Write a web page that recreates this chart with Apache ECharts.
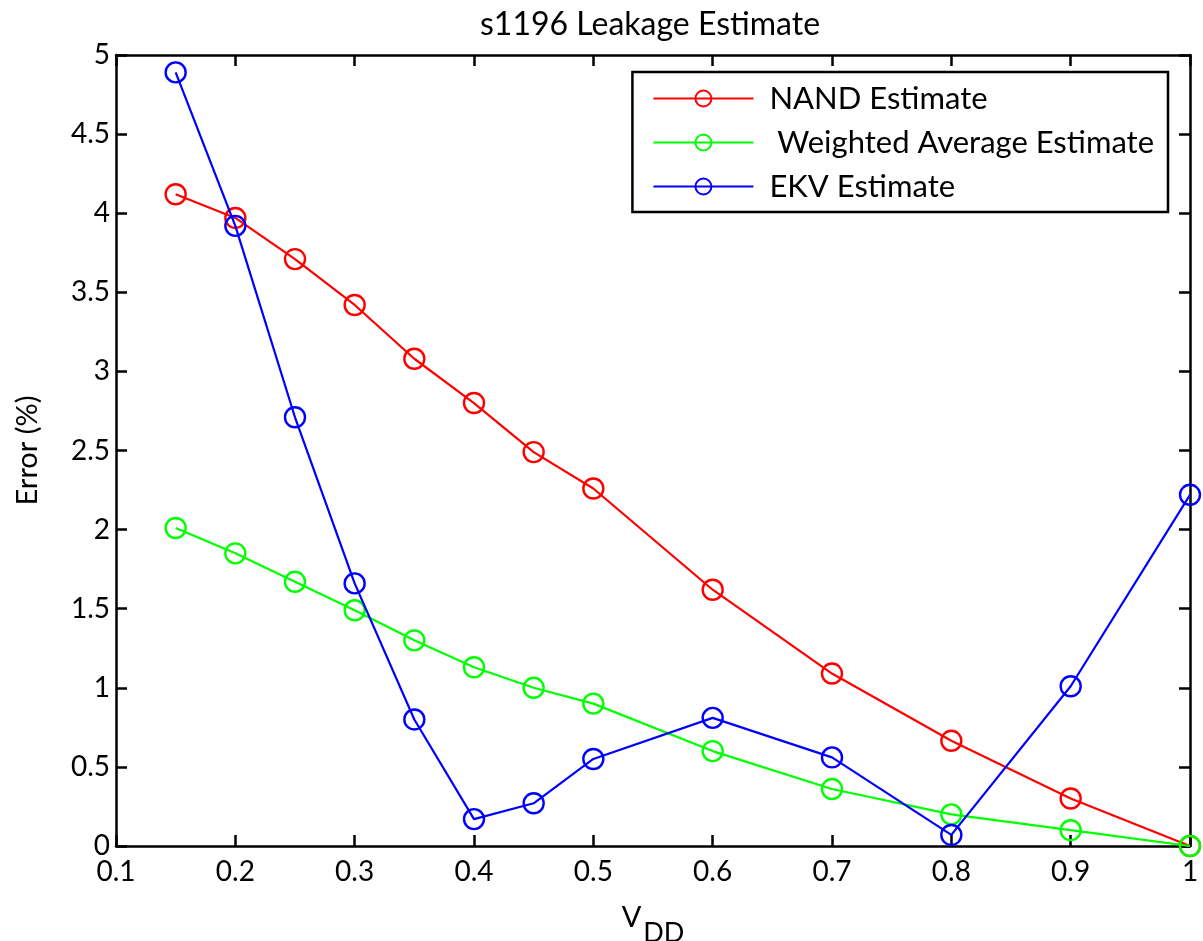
<!DOCTYPE html>
<html>
<head>
<meta charset="utf-8">
<script src="https://cdn.jsdelivr.net/npm/echarts@6/dist/echarts.min.js"></script>
<style>
  html, body { margin: 0; padding: 0; background: #fff; overflow: hidden; }
  #chart { width: 1203px; height: 941px; }
</style>
</head>
<body>
<div id="chart"></div>
<script>
// Supply voltage points (V)
const vdd = [0.15, 0.2, 0.25, 0.3, 0.35, 0.4, 0.45, 0.5, 0.6, 0.7, 0.8, 0.9, 1.0];
// Leakage estimate error (%) per method
const nandError = [4.12, 3.97, 3.71, 3.42, 3.08, 2.80, 2.49, 2.26, 1.62, 1.09, 0.665, 0.30, 0.0];
const weightedError = [2.01, 1.85, 1.67, 1.49, 1.30, 1.13, 1.00, 0.90, 0.60, 0.36, 0.20, 0.10, 0.0];
const ekvError = [4.89, 3.92, 2.71, 1.66, 0.80, 0.17, 0.27, 0.55, 0.81, 0.56, 0.07, 1.01, 2.22];
const seriesNames = ['NAND Estimate', ' Weighted Average Estimate', 'EKV Estimate'];
const seriesColors = ['#ff0000', '#00ff00', '#0000ff'];
const seriesData = [nandError, weightedError, ekvError];

const FONT = 'Lato, "Open Sans", sans-serif';

const chart = echarts.init(document.getElementById('chart'), null, { renderer: 'canvas' });

const axisLine = { show: true, onZero: false, lineStyle: { color: '#000', width: 2.5 } };
const axisTick = { show: true, inside: true, length: 11, lineStyle: { color: '#000', width: 2.5 } };

chart.setOption({
  backgroundColor: '#fff',
  animation: false,
  title: {
    text: 's1196 Leakage Estimate',
    left: 645,
    textAlign: 'center',
    top: 4,
    textStyle: { fontFamily: FONT, fontSize: 32, fontWeight: 'normal', color: '#000' }
  },
  legend: {
    orient: 'vertical',
    right: 35,
    top: 72,
    padding: [11, 14, 10, 20],
    itemWidth: 100,
    itemHeight: 20,
    itemGap: 13,
    borderColor: '#000',
    borderWidth: 2.5,
    backgroundColor: '#fff',
    textStyle: { fontFamily: FONT, fontSize: 31, color: '#000', padding: [0, 0, 0, 11] },
    data: seriesNames
  },
  grid: { left: 116, right: 13, top: 55, bottom: 95, containLabel: false, outerBoundsMode: 'none' },
  xAxis: [
    {
      type: 'value', min: 0.1, max: 1, interval: 0.1, position: 'bottom',
      axisLine, axisTick,
      splitLine: { show: false },
      axisLabel: {
        fontFamily: FONT, fontSize: 28, color: '#000', margin: 12,
        formatter: v => String(Math.round(v * 10) / 10)
      },
      name: '{v|V}{s|DD}',
      nameLocation: 'middle',
      nameGap: 57,
      nameTextStyle: {
        rich: {
          v: { fontFamily: FONT, fontSize: 29, color: '#000', padding: [0, 2, 16, 0] },
          s: { fontFamily: FONT, fontSize: 27, color: '#000', padding: [16, 0, 0, 0] }
        }
      }
    },
    {
      type: 'value', min: 0.1, max: 1, interval: 0.1, position: 'top',
      axisLine, axisTick, axisLabel: { show: false }, splitLine: { show: false }
    }
  ],
  yAxis: [
    {
      type: 'value', min: 0, max: 5, interval: 0.5, position: 'left',
      axisLine, axisTick,
      splitLine: { show: false },
      axisLabel: { fontFamily: FONT, fontSize: 28, color: '#000', margin: 6 },
      name: 'Error (%)',
      nameLocation: 'middle',
      nameRotate: 90,
      nameGap: 74,
      nameTextStyle: { fontFamily: FONT, fontSize: 29, color: '#000' }
    },
    {
      type: 'value', min: 0, max: 5, interval: 0.5, position: 'right',
      axisLine, axisTick, axisLabel: { show: false }, splitLine: { show: false }
    }
  ],
  series: seriesNames.map((name, i) => ({
    name,
    type: 'line',
    xAxisIndex: 0,
    yAxisIndex: 0,
    data: vdd.map((x, j) => [x, seriesData[i][j]]),
    symbol: 'circle',
    symbolSize: 20,
    showAllSymbol: true,
    color: seriesColors[i],
    lineStyle: { color: seriesColors[i], width: 2.2 },
    itemStyle: { color: 'transparent', borderColor: seriesColors[i], borderWidth: 2.4 },
    emphasis: { disabled: true },
    z: 2 + i
  }))
});
</script>
</body>
</html>
